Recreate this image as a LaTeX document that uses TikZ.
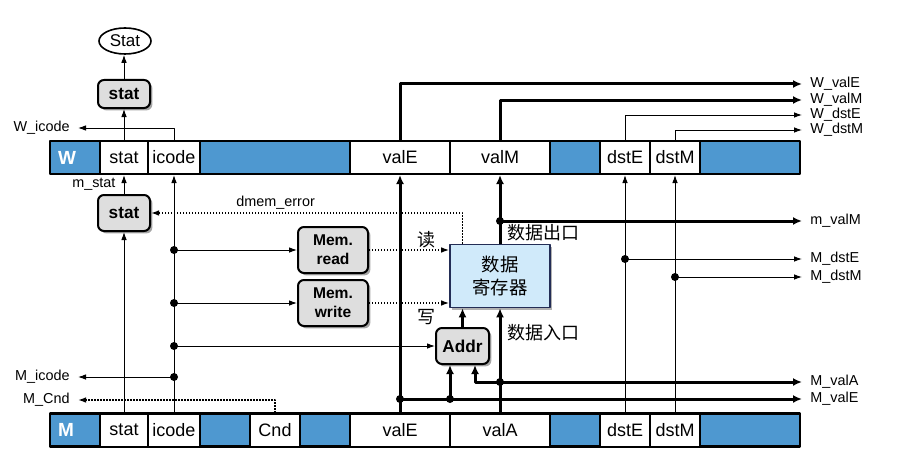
\documentclass[tikz,border=0pt]{standalone}
\usepackage{fontspec}
\setmainfont{Liberation Sans}
\newfontfamily\cjk{Noto Sans CJK SC}
\usetikzlibrary{arrows.meta,shadows,shapes.geometric}
\definecolor{regblue}{RGB}{78,152,208}
\definecolor{memblue}{RGB}{208,234,250}
\definecolor{memedge}{RGB}{35,45,85}
\definecolor{ctlgray}{RGB}{222,222,222}

\begin{document}
\begin{tikzpicture}[x=0.5pt, y=-0.5pt, line join=round, font=\fontsize{9}{10.5}\selectfont,
  field/.style={draw, line width=1pt, fill=white, minimum height=16.5pt, inner sep=0pt},
  ctl/.style={draw, line width=1pt, rounded corners=3pt, fill=ctlgray, align=center, inner sep=0pt,
    font=\fontsize{8.6}{9.5}\selectfont\bfseries, drop shadow={shadow xshift=1.2pt, shadow yshift=-1.2pt, fill=black!70}},
  sig/.style={font=\fontsize{7.2}{8}\selectfont, inner sep=4pt},
  cjklab/.style={font=\cjk\fontsize{9}{11}\selectfont, inner sep=1pt},
  wire/.style={line width=.5pt, >={Latex[length=4pt,width=2.8pt]}, ->},
  bus/.style={line width=1.5pt, >={Latex[length=4.5pt,width=4pt]}, ->},
  dotwire/.style={wire, line width=.7pt, dash pattern=on .7pt off .8pt},
  jn/.style={circle, fill, inner sep=0pt, minimum size=4pt}]
\useasboundingbox (0,0) rectangle (913,465);

% pipeline registers W and M
\draw[line width=1.3pt, fill=regblue] (50,141) rectangle (800,174);
\draw[line width=1.3pt, fill=regblue] (50,413.5) rectangle (800,446.5);
\node[text=white, font=\fontsize{9.5}{10}\selectfont\bfseries] (Wname) at (67,157.5) {W};
\node[text=white, font=\fontsize{9.5}{10}\selectfont\bfseries] (Mname) at (66,430) {M};
\foreach \n/\cx/\w in {stat/124/24pt, icode/174/26pt, valE/400/50pt, valM/500/50pt, dstE/625/25pt, dstM/675/25pt}
  \node[field, minimum width=\w] (W\n) at (\cx,157.5) {\n};
\foreach \n/\cx/\w in {stat/124/24pt, icode/174/26pt, Cnd/275/25pt, valE/400/50pt, valA/500/50pt, dstE/625/25pt, dstM/675/25pt}
  \node[field, minimum width=\w] (M\n) at (\cx,430) {\n};

% boxes
\node[draw, ellipse, line width=.8pt, minimum width=26pt, minimum height=13pt, inner sep=0pt,
  font=\fontsize{8.5}{10}\selectfont] (Stat) at (125,41) {Stat};
\node[ctl, minimum width=26pt, minimum height=14pt] (Wstatbox) at (124,94) {stat};
\node[ctl, minimum width=26pt, minimum height=18pt] (Mstatbox) at (124,213) {stat};
\node[ctl, minimum width=35pt, minimum height=23pt, font=\fontsize{7.8}{9.5}\selectfont\bfseries] (memread) at (333,250) {Mem.\\read};
\node[ctl, minimum width=35pt, minimum height=23pt, font=\fontsize{7.8}{9.5}\selectfont\bfseries] (memwrite) at (333,303) {Mem.\\write};
\node[ctl, minimum width=26.5pt, minimum height=18pt] (addr) at (462.5,346) {Addr};
\node[draw=memedge, line width=.8pt, fill=memblue, minimum width=50pt, minimum height=31.5pt, align=center,
  drop shadow={shadow xshift=1.2pt, shadow yshift=-1.2pt, fill=black!60},
  font=\cjk\fontsize{9.2}{11.5}\selectfont] (dmem) at (500,276) {数据\\寄存器};

% signal labels
\node[sig, anchor=east] (Wicodeout) at (78,128) {W\_icode};
\node[sig, anchor=east] (Micodeout) at (78,377) {M\_icode};
\node[sig, anchor=east] (MCndout) at (78,400) {M\_Cnd};
\foreach \n/\y in {W\_valE/84, W\_valM/100, W\_dstE/115, W\_dstM/130, m\_valM/221, M\_dstE/259, M\_dstM/277, M\_valA/382, M\_valE/399}
  \node[sig, anchor=west] (out\y) at (802,\y) {\n};
\node[cjklab] (rdlab) at (426,240) {读};
\node[cjklab] (wrlab) at (426,317) {写};
\node[cjklab, anchor=west] (outlab) at (505,233) {数据出口};
\node[cjklab, anchor=west] (inlab) at (505,333) {数据入口};

% W stage outputs
\draw[wire] (Wstat.north) -- (Wstatbox.south);
\draw[wire] (Wstatbox.north) -- (Wstatbox.north |- Stat.south);
\draw[wire] (Wicode.north) |- (Wicodeout.east);
\draw[bus] (WvalE.north) |- (out84.west);
\draw[bus] (WvalM.north) |- (out100.west);
\draw[wire] (WdstE.north) |- (out115.west);
\draw[wire] (WdstM.north) |- (out130.west);

% stat and icode
\draw[wire] (Mstat.north) -- (Mstatbox.south);
\draw[wire] (Mstatbox.north) -- (Wstat.south) node[sig, pos=.5, left] (mstatlab) {m\_stat};
\draw[wire] (Micode.north) -- (Wicode.south);
\foreach \n/\y in {j1/250, j2/303, j3/346, j4/377}
  \node[jn] (\n) at (174,\y) {};
\draw[wire] (j1.center) -- (memread.west);
\draw[wire] (j2.center) -- (memwrite.west);
\draw[wire] (j3.center) -- (addr.west);
\draw[wire] (j4.center) -- (Micodeout.east);
\draw[dotwire] (MCnd.north) |- (MCndout.east);

% memory
\draw[dotwire] (memread.east) -- (memread.east -| dmem.west);
\draw[dotwire] (memwrite.east) -- (memwrite.east -| dmem.west);
\draw[dotwire] (addr.north |- dmem.north) |- (Mstatbox.east)
  node[sig, pos=.8, above, inner sep=1.5pt] (dmemerr) {dmem\_error};
\draw[bus] (addr.north) -- (addr.north |- dmem.south);
\draw[bus] (dmem.north) -- (WvalM.south);
\node[jn] (j5) at (500,221) {};
\draw[bus] (j5.center) -- (out221.west);

% valE, valA
\draw[bus] (MvalE.north) -- (WvalE.south);
\draw[bus] (MvalA.north) -- (dmem.south);
\node[jn] (j6) at (400,399) {};
\node[jn] (j7) at (450,399) {};
\node[jn] (j8) at (500,382) {};
\draw[bus] (j6.center) -- (out399.west);
\draw[bus] (j7.center) -- ([xshift=-6.25pt]addr.south);
\draw[bus, <->] ([xshift=6.25pt]addr.south) |- (out382.west);

% dstE, dstM
\draw[wire] (MdstE.north) -- (WdstE.south);
\draw[wire] (MdstM.north) -- (WdstM.south);
\node[jn] (j9) at (625,259) {};
\node[jn] (j10) at (675,277) {};
\draw[wire] (j9.center) -- (out259.west);
\draw[wire] (j10.center) -- (out277.west);
\end{tikzpicture}
\end{document}
